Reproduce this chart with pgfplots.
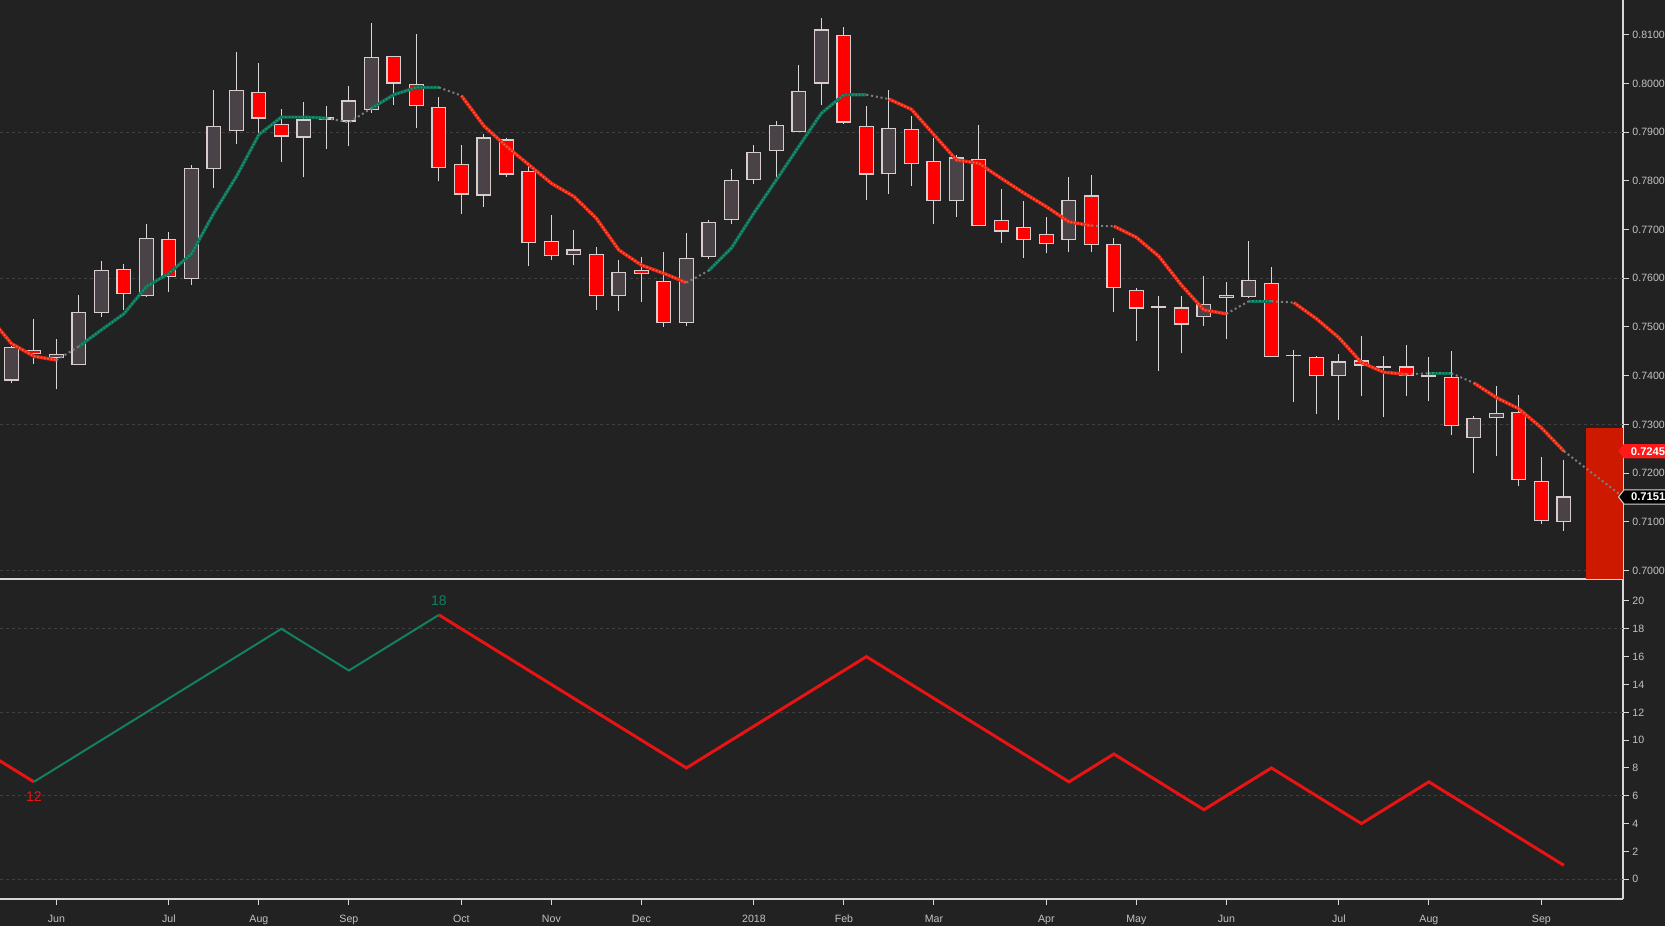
\documentclass[border=0pt]{standalone}
\usepackage{fontspec}
\setmainfont{Liberation Sans}
\usepackage{pgfplots}
\pgfplotsset{compat=1.18}
\usepackage{pgfplotstable}
\usetikzlibrary{shapes.symbols}

\definecolor{bg}{RGB}{34,34,34}
\definecolor{axiscol}{RGB}{215,215,215}
\definecolor{tickcol}{RGB}{195,195,195}
\definecolor{gridcol}{RGB}{64,64,64}
\definecolor{wickcol}{RGB}{215,215,215}
\definecolor{upfill}{RGB}{73,67,71}
\definecolor{bodyline}{RGB}{215,205,205}
\definecolor{dnfill}{RGB}{255,0,0}
\definecolor{emared}{RGB}{235,35,20}
\definecolor{emareddot}{RGB}{255,100,65}
\definecolor{emagreen}{RGB}{14,112,86}
\definecolor{emagreendot}{RGB}{38,150,120}
\definecolor{emagrey}{RGB}{125,125,125}
\definecolor{bandred}{RGB}{205,25,0}
\definecolor{labred}{RGB}{255,25,25}
\definecolor{lowred}{RGB}{232,20,20}
\definecolor{lowgreen}{RGB}{18,128,98}

\pgfplotstableread{
i o h l c
0 0.7391 0.7460 0.7384 0.7458
1 0.7452 0.7516 0.7423 0.7446
2 0.7438 0.7475 0.7372 0.7444
3 0.7423 0.7566 0.7423 0.7530
4 0.7530 0.7636 0.7521 0.7616
5 0.7618 0.7629 0.7535 0.7569
6 0.7565 0.7712 0.7562 0.7682
7 0.7680 0.7695 0.7571 0.7603
8 0.7600 0.7833 0.7586 0.7826
9 0.7825 0.7987 0.7786 0.7912
10 0.7904 0.8064 0.7876 0.7986
11 0.7982 0.8042 0.7895 0.7929
12 0.7916 0.7948 0.7839 0.7892
13 0.7890 0.7962 0.7807 0.7925
14 0.7927 0.7953 0.7866 0.7929
15 0.7923 0.7995 0.7871 0.7964
16 0.7947 0.8124 0.7940 0.8054
17 0.8056 0.8056 0.7956 0.8001
18 0.7998 0.8102 0.7908 0.7955
19 0.7951 0.7972 0.7799 0.7828
20 0.7834 0.7874 0.7733 0.7773
21 0.7771 0.7896 0.7747 0.7888
22 0.7884 0.7889 0.7809 0.7814
23 0.7819 0.7832 0.7626 0.7674
24 0.7676 0.7730 0.7638 0.7647
25 0.7649 0.7699 0.7627 0.7658
26 0.7649 0.7664 0.7535 0.7565
27 0.7565 0.7638 0.7532 0.7612
28 0.7616 0.7644 0.7552 0.7610
29 0.7593 0.7653 0.7501 0.7510
30 0.7510 0.7692 0.7503 0.7641
31 0.7645 0.7720 0.7640 0.7715
32 0.7721 0.7825 0.7712 0.7801
33 0.7803 0.7874 0.7794 0.7859
34 0.7863 0.7923 0.7805 0.7914
35 0.7902 0.8038 0.7902 0.7984
36 0.8001 0.8135 0.7956 0.8110
37 0.8099 0.8116 0.7917 0.7921
38 0.7912 0.7954 0.7760 0.7814
39 0.7816 0.7987 0.7774 0.7908
40 0.7906 0.7934 0.7790 0.7836
41 0.7840 0.7888 0.7712 0.7760
42 0.7760 0.7853 0.7726 0.7847
43 0.7844 0.7915 0.7709 0.7709
44 0.7719 0.7784 0.7673 0.7697
45 0.7705 0.7758 0.7642 0.7680
46 0.7690 0.7726 0.7651 0.7672
47 0.7680 0.7808 0.7653 0.7760
48 0.7769 0.7813 0.7654 0.7669
49 0.7669 0.7683 0.7530 0.7581
50 0.7575 0.7581 0.7472 0.7539
51 0.7541 0.7564 0.7410 0.7542
52 0.7539 0.7564 0.7446 0.7506
53 0.7521 0.7604 0.7502 0.7546
54 0.7560 0.7592 0.7475 0.7564
55 0.7562 0.7677 0.7560 0.7595
56 0.7589 0.7623 0.7438 0.7440
57 0.7441 0.7453 0.7345 0.7442
58 0.7438 0.7440 0.7321 0.7400
59 0.7400 0.7444 0.7310 0.7428
60 0.7430 0.7482 0.7358 0.7422
61 0.7418 0.7441 0.7315 0.7419
62 0.7418 0.7462 0.7358 0.7401
63 0.7399 0.7439 0.7347 0.7400
64 0.7397 0.7451 0.7278 0.7298
65 0.7273 0.7317 0.7200 0.7312
66 0.7314 0.7378 0.7235 0.7323
67 0.7325 0.7360 0.7173 0.7186
68 0.7182 0.7233 0.7096 0.7102
69 0.7100 0.7226 0.7082 0.7151
}\candles

\pgfplotstableread{
i v
-1 0.7522
0 0.7466
1 0.7440
2 0.7432
3 0.7460
4 0.7494
5 0.7527
6 0.7583
7 0.7610
8 0.7650
9 0.7734
10 0.7809
11 0.7895
12 0.7931
13 0.7931
14 0.7929
15 0.7920
16 0.7949
17 0.7977
18 0.7992
19 0.7992
20 0.7975
21 0.7913
22 0.7871
23 0.7833
24 0.7795
25 0.7768
26 0.7723
27 0.7658
28 0.7627
29 0.7610
30 0.7591
31 0.7616
32 0.7662
33 0.7734
34 0.7802
35 0.7871
36 0.7939
37 0.7977
38 0.7977
39 0.7968
40 0.7947
41 0.7895
42 0.7843
43 0.7836
44 0.7805
45 0.7775
46 0.7747
47 0.7716
48 0.7708
49 0.7707
50 0.7684
51 0.7645
52 0.7586
53 0.7535
54 0.7527
55 0.7553
56 0.7553
57 0.7550
58 0.7517
59 0.7478
60 0.7427
61 0.7407
62 0.7403
63 0.7405
64 0.7405
65 0.7385
66 0.7355
67 0.7332
68 0.7293
69 0.7245
71.627 0.7151
}\ema

\pgfplotstableread{
i v
-1 9
1 7
12 18
15 15
19 19
30 8
38 16
47 7
49 9
53 5
56 8
60 4
63 7
69 1
}\swing

\newcommand\tfont{\fontsize{5.3}{6}\selectfont}

\pgfplotsset{
  panel/.style={scale only axis, width=811.5pt, anchor=south west,
    xmin=-0.5067, xmax=71.627},
  upper/.style={panel, height=289.5pt, at={(0pt,173.5pt)},
    ymin=0.69825, ymax=0.81715},
  lower/.style={panel, height=160pt, at={(0pt,13.5pt)},
    ymin=-1.417, ymax=21.58},
  frame/.style={
    axis x line*=bottom, axis y line*=right,
    axis line style={-, axiscol, line width=0.6pt},
    tick style={axiscol, line width=0.5pt},
    tick align=outside, major tick length=2.8pt,
    ticklabel style={font=\tfont, text=tickcol},
    yticklabel style={anchor=west, inner sep=0pt, xshift=1.7pt,
      /pgf/number format/assume math mode=true},
    xticklabel style={anchor=base, inner sep=0pt, yshift=-9pt},
    extra y tick style={grid=major, major tick length=0pt},
    extra y tick labels={},
    major grid style={gridcol, dash pattern=on 1.5pt off 1.5pt, line width=0.5pt},
  },
  emaR/.style={emared, line width=1.7pt,
    postaction={draw, emareddot, line width=0.8pt, dash pattern=on 0.7pt off 1pt}},
  emaG/.style={emagreen, line width=1.6pt,
    postaction={draw, emagreendot, line width=0.8pt, dash pattern=on 0.7pt off 1pt}},
  emaN/.style={emagrey, line width=1pt, dash pattern=on 1pt off 1.4pt},
}

\begin{document}
\begin{tikzpicture}
\fill[bg] (0,0) rectangle (832.5pt,463pt);

% ---- upper panel: frame, grid, wicks
\begin{axis}[upper, frame,
  xtick=\empty,
  ytick={0.70,0.71,0.72,0.73,0.74,0.75,0.76,0.77,0.78,0.79,0.80,0.81},
  scaled y ticks=false,
  yticklabel style={/pgf/number format/.cd, fixed, fixed zerofill, precision=4},
  extra y ticks={0.70,0.73,0.76,0.79},
]
\addplot[draw=none, mark=none, mark options={draw=none, fill=none},
  error bars/.cd, y dir=plus, y explicit, error mark=none,
  error bar style={draw=wickcol, line width=0.5pt}]
  table[x=i, y=l, y error plus expr=\thisrow{h}-\thisrow{l}] {\candles};
\end{axis}

% ---- candle bodies
\begin{axis}[upper, hide axis, ybar stacked, bar width=0.62]
\addplot[draw=none, fill=none] table[x=i, y expr={min(\thisrow{o},\thisrow{c})}] {\candles};
\addplot[fill=upfill, draw=bodyline, line width=0.6pt] table[x=i, y expr={max(\thisrow{c}-\thisrow{o},0)}] {\candles};
\addplot[fill=dnfill, draw=bodyline, line width=0.6pt] table[x=i, y expr={max(\thisrow{o}-\thisrow{c},0)}] {\candles};
\end{axis}

% ---- trend line, band, labels
\begin{axis}[upper, hide axis, clip mode=individual]
\addplot[fill=bandred, draw=none] coordinates {(69.98,0.69825) (71.627,0.69825) (71.627,0.7293) (69.98,0.7293)} -- cycle;
\addplot[emaR, restrict x to domain=-1:2] table[x=i,y=v] {\ema};
\addplot[emaN, restrict x to domain=2:3] table[x=i,y=v] {\ema};
\addplot[emaG, restrict x to domain=3:14] table[x=i,y=v] {\ema};
\addplot[emaN, restrict x to domain=14:16] table[x=i,y=v] {\ema};
\addplot[emaG, restrict x to domain=16:19] table[x=i,y=v] {\ema};
\addplot[emaN, restrict x to domain=19:20] table[x=i,y=v] {\ema};
\addplot[emaR, restrict x to domain=20:30] table[x=i,y=v] {\ema};
\addplot[emaN, restrict x to domain=30:31] table[x=i,y=v] {\ema};
\addplot[emaG, restrict x to domain=31:38] table[x=i,y=v] {\ema};
\addplot[emaN, restrict x to domain=38:39] table[x=i,y=v] {\ema};
\addplot[emaR, restrict x to domain=39:48] table[x=i,y=v] {\ema};
\addplot[emaN, restrict x to domain=48:49] table[x=i,y=v] {\ema};
\addplot[emaR, restrict x to domain=49:54] table[x=i,y=v] {\ema};
\addplot[emaN, restrict x to domain=54:55] table[x=i,y=v] {\ema};
\addplot[emaG, restrict x to domain=55:56] table[x=i,y=v] {\ema};
\addplot[emaN, restrict x to domain=56:57] table[x=i,y=v] {\ema};
\addplot[emaR, restrict x to domain=57:62] table[x=i,y=v] {\ema};
\addplot[emaN, restrict x to domain=62:63] table[x=i,y=v] {\ema};
\addplot[emaG, restrict x to domain=63:64] table[x=i,y=v] {\ema};
\addplot[emaN, restrict x to domain=64:65] table[x=i,y=v] {\ema};
\addplot[emaR, restrict x to domain=65:69] table[x=i,y=v] {\ema};
\addplot[emaN, restrict x to domain=69:72] table[x=i,y=v] {\ema};
\node[signal, signal to=west, signal pointer angle=105, fill=labred, text=white,
  font=\bfseries\fontsize{5.6}{6}\selectfont, inner xsep=3.5pt, inner ysep=1.6pt, anchor=west]
  at (axis cs:71.40,0.7245) {0.7245};
\node[signal, signal to=west, signal pointer angle=105, fill=black, draw=axiscol,
  line width=0.5pt, text=white,
  font=\bfseries\fontsize{5.6}{6}\selectfont, inner xsep=3.5pt, inner ysep=1.6pt, anchor=west]
  at (axis cs:71.40,0.7151) {0.7151};
\end{axis}

% ---- lower panel
\begin{axis}[lower, frame, clip mode=individual,
  xtick={2,7,11,15,20,24,28,33,37,41,46,50,54,59,63,68},
  xticklabels={Jun,Jul,Aug,Sep,Oct,Nov,Dec,2018,Feb,Mar,Apr,May,Jun,Jul,Aug,Sep},
  ytick={0,2,4,6,8,10,12,14,16,18,20},
  extra y ticks={0,6,12,18},
]
\addplot[lowred, line width=1.5pt, restrict x to domain=-1:1] table[x=i,y=v] {\swing};
\addplot[lowgreen, line width=1pt, restrict x to domain=1:19] table[x=i,y=v] {\swing};
\addplot[lowred, line width=1.5pt, restrict x to domain=19:69] table[x=i,y=v] {\swing};
\node[text=lowred, font=\fontsize{7}{8}\selectfont] at (axis cs:1,5.94) {12};
\node[text=lowgreen, font=\fontsize{7}{8}\selectfont] at (axis cs:19,20.0) {18};
\end{axis}

\pgfresetboundingbox
\useasboundingbox (0,0) rectangle (832.5pt,463pt);
\end{tikzpicture}
\end{document}
